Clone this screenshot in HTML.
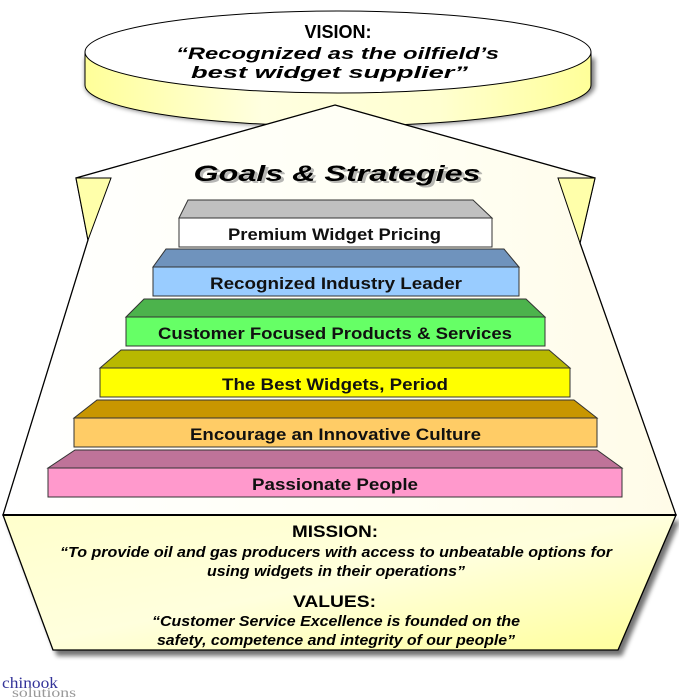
<!DOCTYPE html>
<html><head><meta charset="utf-8"><style>
html,body{margin:0;padding:0;background:#fff;}
svg{display:block;}
text{font-family:"Liberation Sans",Arial,sans-serif;font-weight:bold;}
</style></head><body>
<svg width="679" height="698" viewBox="0 0 679 698" xmlns="http://www.w3.org/2000/svg">
<defs>
<linearGradient id="side" x1="0" x2="1" y1="0" y2="0">
<stop offset="0" stop-color="#ffff99"/><stop offset="0.35" stop-color="#ffffe0"/><stop offset="0.7" stop-color="#ffffd0"/><stop offset="1" stop-color="#ffff99"/>
</linearGradient>
<linearGradient id="house" x1="0" x2="1" y1="0" y2="0">
<stop offset="0" stop-color="#ffffff"/><stop offset="0.6" stop-color="#fffff4"/><stop offset="1" stop-color="#fffbe8"/>
</linearGradient>
<linearGradient id="base" x1="0" x2="1" y1="0" y2="1">
<stop offset="0" stop-color="#ffffcc"/><stop offset="0.5" stop-color="#ffffdd"/><stop offset="1" stop-color="#ffff99"/>
</linearGradient>
<filter id="sh" x="-10%" y="-10%" width="130%" height="140%"><feGaussianBlur stdDeviation="2.5"/></filter>
</defs>

<path d="M85,58 L85,86 A253,41 0 0 0 595,86 L595,58 Z" fill="#000" opacity="0.5" filter="url(#sh)"/>
<path d="M85,52 L85,85 A253,41 0 0 0 591,85 L591,52 Z" fill="url(#side)" stroke="#000" stroke-width="1"/>
<ellipse cx="338" cy="52" rx="253" ry="41" fill="#fff" stroke="#000" stroke-width="1"/>
<text x="338" y="38" font-size="18" text-anchor="middle">VISION:</text>
<text x="176" y="59" font-size="17" font-style="italic" textLength="323" lengthAdjust="spacingAndGlyphs">“Recognized as the oilfield’s</text>
<text x="191" y="78" font-size="17" font-style="italic" textLength="277" lengthAdjust="spacingAndGlyphs">best widget supplier”</text>

<polygon points="335,105 595,178 580,243 676,515 3,515 88,240 76,178" fill="url(#house)" stroke="#000" stroke-width="1.3"/>
<polygon points="76,178 111,178 88,240" fill="#ffffaa" stroke="#000" stroke-width="1"/>
<polygon points="558,178 595,178 580,243" fill="#ffffaa" stroke="#000" stroke-width="1"/>

<text x="338" y="181" font-size="22" font-style="italic" text-anchor="middle" fill="#888" opacity="0.6" textLength="287" lengthAdjust="spacingAndGlyphs" transform="translate(2,2)">Goals &amp; Strategies</text>
<text x="337" y="181" font-size="22" font-style="italic" text-anchor="middle" textLength="287" lengthAdjust="spacingAndGlyphs">Goals &amp; Strategies</text>

<g stroke="#333" stroke-width="1">
<polygon points="188,200 473,200 492,218 179,218" fill="#c0c0c0"/>
<rect x="179" y="218" width="313" height="29" fill="#fff"/>
<polygon points="166,249 504,249 519,267 153,267" fill="#6f93bd"/>
<rect x="153" y="267" width="366" height="29" fill="#99ccff"/>
<polygon points="144,299 526,299 545,317 126,317" fill="#4cb34c"/>
<rect x="126" y="317" width="419" height="29" fill="#66ff66"/>
<polygon points="121,350 549,350 570,368 100,368" fill="#b8b800"/>
<rect x="100" y="368" width="470" height="29" fill="#ffff00"/>
<polygon points="97,400 574,400 597,418 74,418" fill="#c89600"/>
<rect x="74" y="418" width="523" height="29" fill="#ffcc66"/>
<polygon points="75,450 597,450 622,468 48,468" fill="#bf7399"/>
<rect x="48" y="468" width="574" height="29" fill="#ff99cc"/>
</g>
<g font-size="17" fill="#111">
<text x="228" y="240" textLength="213" lengthAdjust="spacingAndGlyphs">Premium Widget Pricing</text>
<text x="210" y="289" textLength="252" lengthAdjust="spacingAndGlyphs">Recognized Industry Leader</text>
<text x="158" y="339" textLength="354" lengthAdjust="spacingAndGlyphs">Customer Focused Products &amp; Services</text>
<text x="222" y="390" textLength="226" lengthAdjust="spacingAndGlyphs">The Best Widgets, Period</text>
<text x="190" y="440" textLength="291" lengthAdjust="spacingAndGlyphs">Encourage an Innovative Culture</text>
<text x="252" y="490" textLength="166" lengthAdjust="spacingAndGlyphs">Passionate People</text>
</g>

<polygon points="7,521 680,521 622,656 57,656" fill="#000" opacity="0.55" filter="url(#sh)"/>
<polygon points="3,515 676,515 618,650 53,650" fill="url(#base)" stroke="#000" stroke-width="1.3"/>
<line x1="3" y1="515" x2="676" y2="515" stroke="#000" stroke-width="2"/>
<text x="292" y="537" font-size="17" textLength="86" lengthAdjust="spacingAndGlyphs">MISSION:</text>
<g font-size="15" font-style="italic">
<text x="60" y="557" textLength="552" lengthAdjust="spacingAndGlyphs">“To provide oil and gas producers with access to unbeatable options for</text>
<text x="207" y="576" textLength="258" lengthAdjust="spacingAndGlyphs">using widgets in their operations”</text>
</g>
<text x="293" y="607" font-size="17" textLength="83" lengthAdjust="spacingAndGlyphs">VALUES:</text>
<g font-size="15" font-style="italic">
<text x="152" y="626" textLength="368" lengthAdjust="spacingAndGlyphs">“Customer Service Excellence is founded on the</text>
<text x="157" y="645" textLength="358" lengthAdjust="spacingAndGlyphs">safety, competence and integrity of our people”</text>
</g>

<text x="2" y="688" font-size="16" fill="#333399" textLength="56" lengthAdjust="spacingAndGlyphs" style="font-family:'Liberation Serif',serif;font-weight:normal">chinook</text>
<text x="12" y="697" font-size="14" fill="#999" textLength="64" lengthAdjust="spacingAndGlyphs" style="font-family:'Liberation Serif',serif;font-weight:normal">solutions</text>
</svg>
</body></html>
